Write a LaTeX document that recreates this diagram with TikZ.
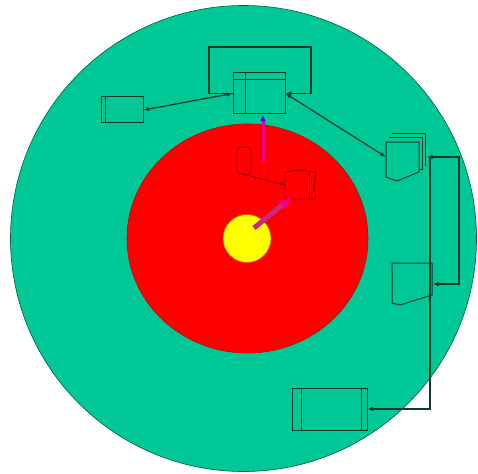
\documentclass[tikz,border=0pt]{standalone}
\usetikzlibrary{arrows.meta}

\definecolor{disc}{RGB}{0,199,150}
\definecolor{hot}{RGB}{255,0,0}
\definecolor{core}{RGB}{255,255,0}
\definecolor{edge}{RGB}{18,58,40}
\definecolor{faint}{RGB}{150,0,0}

\tikzset{
  unit/.style={draw=edge, line width=1pt, fill=disc, inner sep=0pt},
  link/.style={draw=edge, line width=1.2pt, -{Latex[length=5.5pt,width=4.5pt]}},
  twolink/.style={link, {Latex[length=5.5pt,width=4.5pt]}-{Latex[length=5.5pt,width=4.5pt]}},
}

\begin{document}
\begin{tikzpicture}[x=1pt,y=-1pt]
    \useasboundingbox (0,0) rectangle (478,473);

    % the three rings
    \fill [disc, draw=disc!45!black, line width=0.6pt] (243.5,238.5) circle (233pt);
    \fill [hot, draw=hot!80!black, line width=0.6pt] (247.5,238.5) ellipse (120.5pt and 114.5pt);
    \fill [core, draw=orange!80!black, line width=0.6pt] (247,238.5) circle (24pt);

    % boxes on the green ring
    \node [unit, minimum width=52pt, minimum height=41pt] (hub) at (259,93.5) {};
    \draw [edge, line width=1pt] ([xshift=13pt]hub.north west) -- ([xshift=13pt]hub.south west);
    \draw [edge, line width=1pt] ([yshift=-7pt]hub.north west) -- ([yshift=-7pt]hub.north east);

    \node [unit, minimum width=42pt, minimum height=26pt] (store) at (122,110) {};
    \draw [edge, line width=1pt] ([xshift=5pt]store.north west) -- ([xshift=5pt]store.south west);

    \node [unit, minimum width=75pt, minimum height=42pt] (sink) at (329.5,409) {};
    \draw [edge, line width=1pt] ([xshift=10pt]sink.north west) -- ([xshift=10pt]sink.south west);
    \draw [edge, line width=1pt] ([xshift=-6pt]sink.north east) -- ([xshift=-6pt]sink.south east);

    % stacked documents
    \draw [edge, line width=1pt] (392,134) -- (425,134) -- (425,166);
    \draw [edge, fill=disc, line width=1pt] (389,137.5) -- (422,137.5) -- (422,169) -- (419,169);
    \draw [edge, fill=disc, line width=1pt] (386,142) -- (419,142) -- (419,172) -- (397,181) -- (386,177) -- cycle;
    \coordinate (docA) at (386,157);
    \coordinate (docAback) at (427,157);

    % single document
    \draw [edge, fill=disc, line width=1pt] (392,263) -- (432,263) -- (432,295) -- (400,305) -- (392,303) -- cycle;
    \coordinate (docB) at (433,284);

    % connectors
    \draw [twolink] (store.east) -- (hub.west);
    \draw [link] (hub.west) -- (209,93.5) -- (209,47) -- (311,47) -- (311,93.5) -- (hub.east);
    \draw [twolink] (hub.east) -- (docA);
    \draw [link] (459,157) -- (docAback);
    \draw [link] (430,157) -- (430,409) -- (sink.east);
    \draw [link] (430,157) -- (459,157) -- (459,284) -- (docB);

    % shapes inside the red ring
    \draw [faint, line width=0.8pt, rounded corners=4pt] (237,147) rectangle (251,174);
    \draw [faint, line width=0.8pt] (285,172) -- (300,170) -- (316,172) -- (314,186) -- (316,199) -- (285,199) -- cycle;
    \draw [faint, line width=0.8pt] (309,171) -- (309,199);
    \coordinate (probe) at (242,174);
    \coordinate (target) at (285,185);
    \draw [faint, line width=0.8pt, -{Latex[length=5pt,width=4pt,color=faint!70!black]}] (probe) -- (target);

    % rays
    \coordinate (spark) at (263,162);
    \draw [magenta, line width=3pt, -{Latex[length=7pt,width=6pt,color=blue!70!magenta]}] (spark) -- (spark |- hub.south);
    \coordinate (beam) at (254,228);
    \draw [magenta!65!violet, line width=5pt, -{Latex[length=13pt,width=12pt,color=magenta]}] (beam) -- (292,197);
\end{tikzpicture}
\end{document}
